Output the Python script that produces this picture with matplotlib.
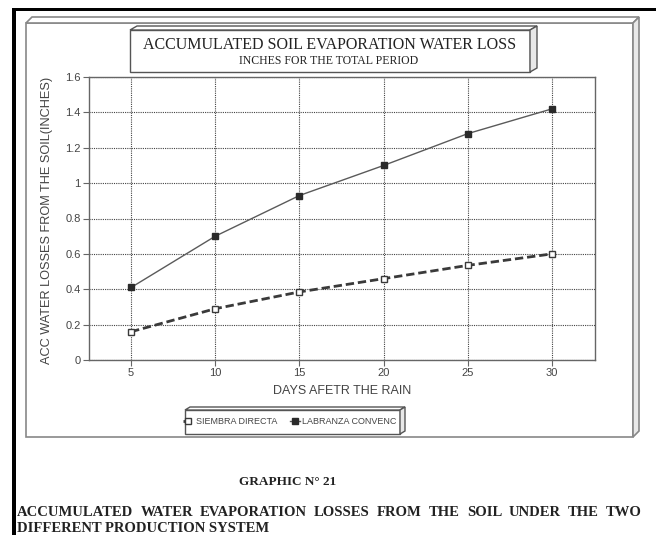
import matplotlib
matplotlib.use('Agg')
import matplotlib.pyplot as plt
from matplotlib.patches import Polygon, Rectangle

# ---------------- data ----------------
days = [5, 10, 15, 20, 25, 30]
siembra_directa = [0.16, 0.29, 0.385, 0.46, 0.535, 0.60]
labranza_convenc = [0.41, 0.70, 0.93, 1.10, 1.28, 1.42]
series_names = ['SIEMBRA DIRECTA', 'LABRANZA CONVENC']
yticks = [0, 0.2, 0.4, 0.6, 0.8, 1.0, 1.2, 1.4, 1.6]
ytick_labels = ['0', '0.2', '0.4', '0.6', '0.8', '1', '1.2', '1.4', '1.6']
xticks = [5, 10, 15, 20, 25, 30]
xtick_labels = ['5', '10', '15', '20', '25', '30']

title = 'ACCUMULATED SOIL EVAPORATION WATER LOSS'
subtitle = 'INCHES FOR THE TOTAL PERIOD'
ylabel = 'ACC WATER LOSSES FROM THE SOIL(INCHES)'
xlabel = 'DAYS AFETR THE RAIN'
graphic_no = 'GRAPHIC N\u00b0 21'
caption1 = 'ACCUMULATED WATER EVAPORATION LOSSES FROM THE SOIL UNDER THE TWO'
caption2 = 'DIFFERENT PRODUCTION SYSTEM'

W, H = 656, 535
fig = plt.figure(figsize=(W / 100, H / 100), dpi=100)
fig.patch.set_facecolor('white')


def fx(x):
    return x / W


def fy(y):
    return 1 - y / H


def poly(pts, fc='none', ec='#7a7a7a', lw=1.0, z=-1):
    p = Polygon([(fx(x), fy(y)) for x, y in pts], closed=True,
                transform=fig.transFigure, fc=fc, ec=ec, lw=lw, zorder=z)
    fig.add_artist(p)


def box3d(l, t, r, b, dx, dy, z=-1, ec='#6a6a6a', lw=1.0):
    poly([(l, t), (r, t), (r, b), (l, b)], fc='white', ec=ec, lw=lw, z=z)
    poly([(l, t), (l + dx, t - dy), (r + dx, t - dy), (r, t)], fc='white', ec=ec, lw=lw, z=z)
    poly([(r, t), (r + dx, t - dy), (r + dx, b - dy), (r, b)], fc='#e8e8e8', ec=ec, lw=lw, z=z)


# black scan borders
fig.add_artist(Rectangle((fx(12), fy(11)), (W - 12) / W, 3.5 / H,
                         transform=fig.transFigure, fc='black', ec='none', zorder=-2))
fig.add_artist(Rectangle((fx(12), 0), 3.5 / W, fy(8),
                         transform=fig.transFigure, fc='black', ec='none', zorder=-2))

# outer 3D frame
box3d(26, 23, 633, 437, 6, 6, z=-1.5, ec='#888888', lw=1.2)
# title box
box3d(130, 30, 530, 72, 7, 4, z=1, ec='#555555', lw=1.0)
# legend box
box3d(185, 410, 400, 434, 5, 3, z=1, ec='#555555', lw=1.0)

# ---------------- axes ----------------
ax = fig.add_axes([fx(89), fy(360), (595 - 89) / W, (360 - 77) / H])
ax.patch.set_facecolor('white')
l1, = ax.plot(days, siembra_directa, color='#3a3a3a', lw=2.0, dashes=(3, 1.4),
              marker='s', ms=4, mfc='white', mec='#3a3a3a', mew=1.0, zorder=3)
l2, = ax.plot(days, labranza_convenc, color='#5a5a5a', lw=1.0,
              marker='s', ms=4.5, mfc='#2a2a2a', mec='#2a2a2a', zorder=3)

ax.set_xlim(2.5, 32.55)
ax.set_ylim(0, 1.6)
ax.set_xticks(xticks)
ax.set_xticklabels(xtick_labels)
ax.set_yticks(yticks)
ax.set_yticklabels(ytick_labels)
ax.grid(True, ls=(0, (1, 1)), color='#444444', lw=0.8)
for s in ax.spines.values():
    s.set_color('#666666')
    s.set_linewidth(1.0)
ax.tick_params(direction='out', length=4, width=0.8, color='#666666',
               labelsize=8, labelcolor='#444444', pad=2)
for lab in ax.get_xticklabels() + ax.get_yticklabels():
    lab.set_family('Liberation Sans')

# ---------------- texts ----------------
fig.text(fx(330), fy(45), title, ha='center', va='center', fontsize=11.5,
         family='Liberation Serif', color='#222222', zorder=2)
fig.text(fx(329), fy(61), subtitle, ha='center', va='center', fontsize=8.5,
         family='Liberation Serif', color='#222222', zorder=2)
fig.text(fx(47), fy(220), ylabel, ha='center', va='center', rotation=90,
         fontsize=9.2, family='Liberation Sans', color='#444444')
fig.text(fx(342), fy(391), xlabel, ha='center', va='center',
         fontsize=9, family='Liberation Sans', color='#444444')

leg = fig.legend([l1, l2], series_names, loc='center', bbox_to_anchor=(fx(290), fy(422)),
                 ncol=2, frameon=False, handlelength=1.1, columnspacing=1.4,
                 handletextpad=0.3, borderpad=0.2,
                 prop={'family': 'Liberation Sans', 'size': 6.5})
for t in leg.get_texts():
    t.set_color('#444444')
leg.set_zorder(2)

fig.text(fx(288), fy(482), graphic_no, ha='center', va='center', fontsize=9.5,
         family='Liberation Serif', weight='bold', color='#222222')


def justified(text, x0, x1, y, **kw):
    words = text.split()
    objs = [fig.text(fx(x0), fy(y), w, ha='left', va='center', **kw) for w in words]
    r = fig.canvas.get_renderer()
    widths = [o.get_window_extent(r).width for o in objs]
    gap = (x1 - x0 - sum(widths)) / (len(words) - 1)
    x = x0
    for o, w in zip(objs, widths):
        o.set_x(fx(x))
        x += w + gap


cap_kw = dict(fontsize=10.5, family='Liberation Serif', weight='bold', color='#222222')
justified(caption1, 17, 642, 512, **cap_kw)
fig.text(fx(17), fy(528), caption2, ha='left', va='center', **cap_kw)

fig.savefig('out.png', dpi=100)
